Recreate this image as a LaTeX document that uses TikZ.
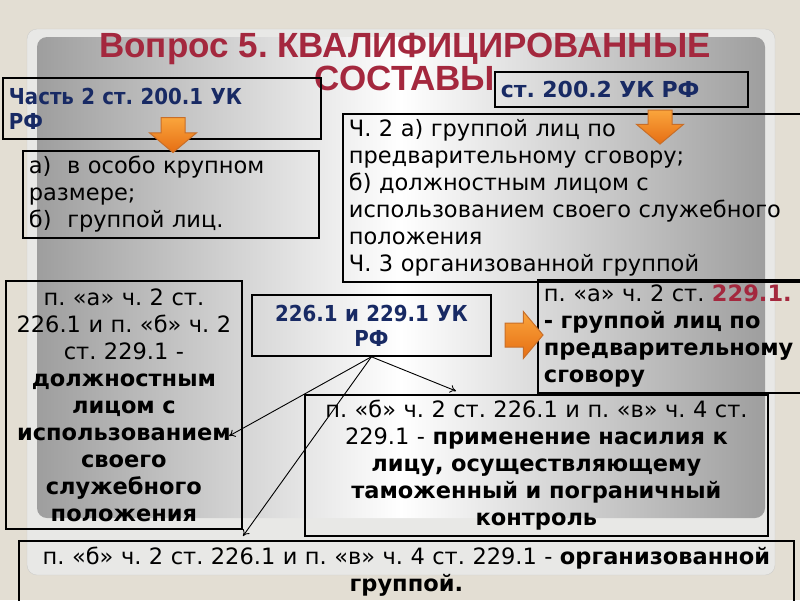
\documentclass[tikz,border=0pt]{standalone}
\usepackage{fontspec}
\setmainfont{DejaVu Sans}
\newfontfamily\titlefamily{Liberation Sans}
\newfontfamily\condfamily[FakeStretch=0.9]{DejaVu Sans}
\usetikzlibrary{shapes.arrows, arrows.meta}
\definecolor{navy}{RGB}{24,42,100}
\definecolor{titlered}{RGB}{164,40,62}
\definecolor{pagebg}{RGB}{227,222,211}
\definecolor{frameout}{RGB}{232,232,230}
\definecolor{frameedge}{RGB}{205,205,203}
\definecolor{shadegray}{RGB}{158,158,158}
\definecolor{orangetop}{RGB}{250,165,60}
\definecolor{orangebot}{RGB}{230,110,20}
\definecolor{orangeedge}{RGB}{200,110,40}
\newcommand{\bodyfont}{\fontsize{22.5}{27}\selectfont}
\newcommand{\headfont}{\condfamily\fontsize{22}{25}\selectfont\bfseries\color{navy}}
\tikzset{
  box/.style={rectangle, draw=black, line width=1.8pt, anchor=north west,
              inner xsep=6pt, inner ysep=2pt, font=\bodyfont},
  headbox/.style={box, font=\headfont},
  titletext/.style={font=\titlefamily\bfseries\fontsize{35}{33}\selectfont,
                    text=titlered, align=center},
  blockarr/.style={single arrow, inner sep=11.5pt, minimum height=35pt,
                   single arrow head extend=11.5pt, single arrow tip angle=100,
                   draw=orangeedge, line width=1pt,
                   top color=orangetop, bottom color=orangebot},
  conn/.style={-{To[length=6pt,width=8pt]}, line width=0.9pt},
}
\frenchspacing
\begin{document}
\begin{tikzpicture}[x=1pt, y=-1pt]
  \useasboundingbox (0,0) rectangle (800,600);
  \clip (0,0) rectangle (800,600);

  %% === Slide background ===
  \fill[pagebg] (0,0) rectangle (800,600);
  \filldraw[fill=frameout, draw=frameedge, rounded corners=10pt] (27,29) rectangle (775,575);
  \shade[left color=shadegray, right color=shadegray, middle color=white,
         rounded corners=10pt] (37,37) rectangle (765,518);

  %% === Title ===
  \node[titletext] (title) at (405,62) {Вопрос 5. КВАЛИФИЦИРОВАННЫЕ\\СОСТАВЫ};

  %% === Top row: art. 200.1 and 200.2 ===
  \node[headbox, text width=306pt, minimum height=61pt, align=left] (art2001) at (2,77)
        {Часть 2 ст. 200.1 УК\\РФ};
  \node[box, text width=284pt, minimum height=87pt, align=left] (list2001) at (22,150)
        {а)\hspace{0.7em}в особо крупном\\размере;\\б)\hspace{0.7em}группой лиц.};
  \node[headbox, font=\fontsize{22}{25}\selectfont\bfseries\color{navy},
        text width=241pt, minimum height=35pt, align=left] (art2002) at (494,71)
        {ст. 200.2 УК РФ};
  \node[box, text width=453pt, minimum height=168pt, align=left] (list2002) at (342,113)
        {Ч. 2 а) группой лиц по\\предварительному сговору;\\б) должностным лицом с\\
         использованием своего служебного\\положения\\Ч. 3 организованной группой};

  %% === Middle: art. 226.1 and 229.1 ===
  \node[box, text width=224pt, minimum height=248pt, align=center] (official) at (5,280)
        {п. «а» ч. 2 ст.\\226.1 и п. «б» ч. 2\\ст. 229.1 -\\\textbf{должностным}\\
         \textbf{лицом с}\\\textbf{использованием}\\\textbf{своего}\\\textbf{служебного}\\
         \textbf{положения}};
  \node[headbox, text width=227pt, minimum height=61pt, align=center] (art2261) at (251,294)
        {226.1 и 229.1 УК\\РФ};
  \node[box, text width=256pt, minimum height=113pt, align=left] (group) at (537,279)
        {п. «а» ч. 2 ст. \textbf{\textcolor{titlered}{229.1.}}\\\textbf{- группой лиц по}\\
         \textbf{предварительному}\\\textbf{сговору}};
  \node[box, text width=451pt, minimum height=141pt, align=center] (violence) at (304,394)
        {п. «б» ч. 2 ст. 226.1 и п. «в» ч. 4 ст.\\229.1 - \textbf{применение насилия к}\\
         \textbf{лицу, осуществляющему}\\\textbf{таможенный и пограничный}\\\textbf{контроль}};
  \node[box, text width=763pt, minimum height=62pt, align=center] (organized) at (18,540)
        {п. «б» ч. 2 ст. 226.1 и п. «в» ч. 4 ст. 229.1 - \textbf{организованной}\\
         \textbf{группой.}};

  %% === Orange block arrows ===
  \node[blockarr, shape border rotate=270] (down1) at (173,130) {};
  \node[blockarr, shape border rotate=270, minimum height=32pt] (down2) at (660,122) {};
  \node[blockarr, minimum height=38pt] (right1) at (519,335) {};

  %% === Connectors from 226.1 / 229.1 ===
  \coordinate (tipA) at (229,436);
  \coordinate (tipB) at (456,391);
  \coordinate (tipC) at (243,536);
  \draw[conn] (art2261.south) -- (tipA);
  \draw[conn] (art2261.south) -- (tipB);
  \draw[conn] (art2261.south) -- (tipC);
\end{tikzpicture}
\end{document}
